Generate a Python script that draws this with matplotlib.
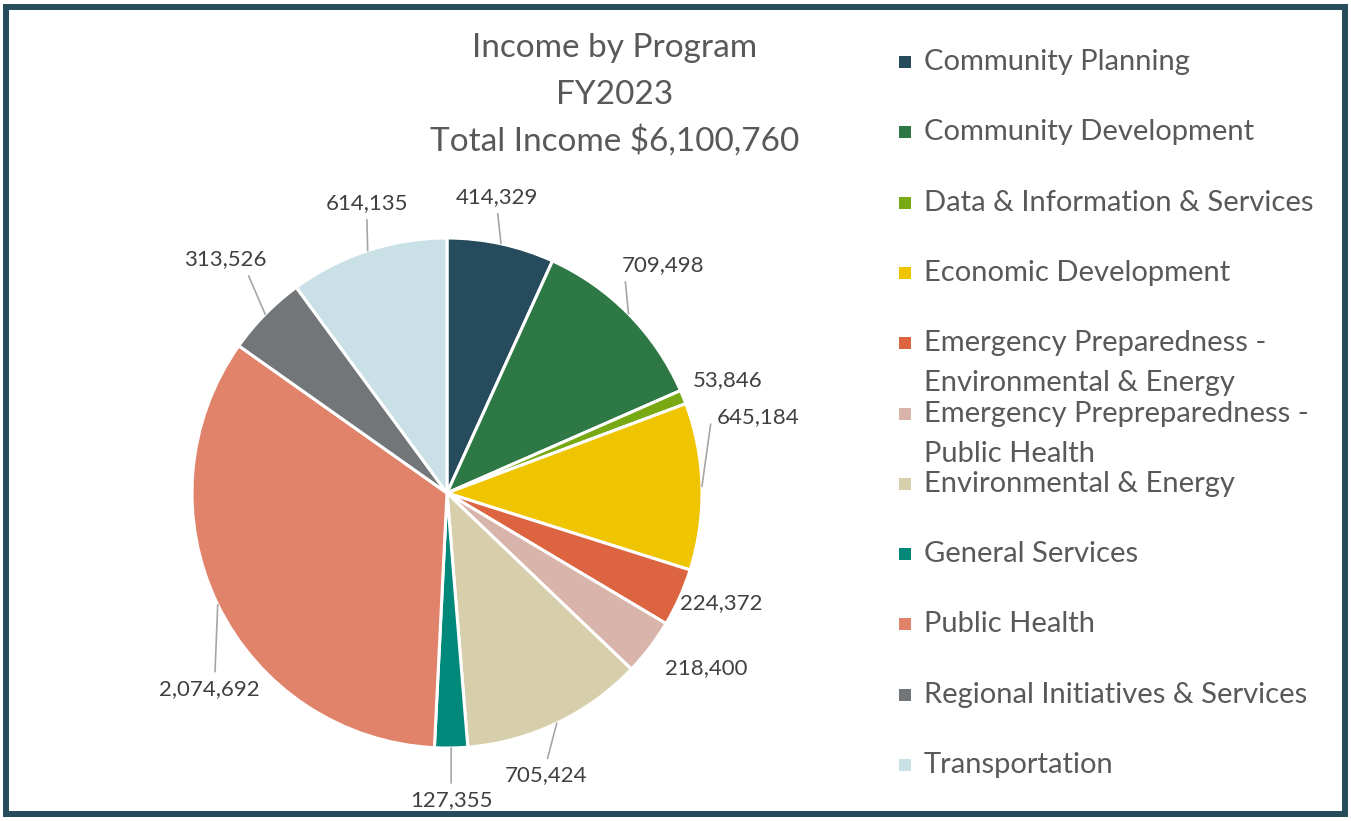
import matplotlib.pyplot as plt
import matplotlib.patches as mpatches
import numpy as np

programs = ["Community Planning", "Community Development", "Data & Information & Services",
            "Economic Development", "Emergency Preparedness -\nEnvironmental & Energy",
            "Emergency Prepreparedness -\nPublic Health", "Environmental & Energy",
            "General Services", "Public Health", "Regional Initiatives & Services",
            "Transportation"]
income = [414329, 709498, 53846, 645184, 224372, 218400, 705424, 127355, 2074692, 313526, 614135]
colors = ["#264b5d", "#2e7846", "#78a914", "#efc400", "#dc6440", "#d9b4aa",
          "#d7cfab", "#00887a", "#e0836a", "#727679", "#c9e0e7"]
title = "Income by Program\nFY2023\nTotal Income $6,100,760"

plt.rcParams['font.family'] = ['Lato', 'DejaVu Sans']

W, H = 1351, 821
fig = plt.figure(figsize=(W / 100, H / 100), dpi=100)

# pie centre (447, 493) px, radius 255 px
R = 255
ax = fig.add_axes([(447 - R) / W, (H - 493 - R) / H, 2 * R / W, 2 * R / H])
wedges, _ = ax.pie(income, colors=colors, startangle=90, counterclock=False,
                   wedgeprops=dict(edgecolor="white", linewidth=2.2))
ax.set_xlim(-1, 1)
ax.set_ylim(-1, 1)
ax.set_aspect("equal")

# label offsets from wedge edge (px, y down), leader flag, relpos
label_off = [(-4, -47), (35, -49), (44, -17), (56, -69), (42, 6), (56, 21),
             (-11, 52), (0, 52), (-8, 84), (-40, -55), (-1, -48)]
leader = [True, True, False, True, False, False, True, True, True, True, True]
relpos = [(0.5, 0), (0.03, 0), (0.5, 0.5), (0, 0.3), (0.5, 0.5), (0.5, 0.5),
          (0.5, 1), (0.5, 1), (0.55, 1), (0.75, 0), (0.5, 0)]

for i, w in enumerate(wedges):
    mid = np.deg2rad((w.theta1 + w.theta2) / 2)
    ex, ey = np.cos(mid), np.sin(mid)
    tx = ex + label_off[i][0] / R
    ty = ey - label_off[i][1] / R
    txt = f"{income[i]:,}"
    if leader[i]:
        cs = "angle,angleA=180,angleB=82,rad=0" if i == 3 else "arc3"
        ax.annotate(txt, xy=(ex, ey), xytext=(tx, ty), ha="center", va="center",
                    fontsize=16, color="#404040",
                    arrowprops=dict(arrowstyle="-", color="#a6a6a6", lw=1.2,
                                    shrinkA=3, shrinkB=0, relpos=relpos[i],
                                    connectionstyle=cs))
    else:
        ax.text(tx, ty, txt, ha="center", va="center", fontsize=16, color="#404040")

# title
for j, line in enumerate(title.split("\n")):
    fig.text(615 / W, 1 - (48 + j * 46.5) / H, line, ha="center", va="center",
             fontsize=24, color="#595959")

# legend
for i, name in enumerate(programs):
    y = 62 + i * 70.3
    fig.patches.append(mpatches.Rectangle((899 / W, 1 - (y + 6) / H), 12 / W, 12 / H,
                                          transform=fig.transFigure,
                                          facecolor=colors[i], edgecolor="none"))
    for k, line in enumerate(name.split("\n")):
        fig.text(924 / W, 1 - (y + k * 40) / H, line, ha="left", va="center",
                 fontsize=21, color="#595959")

# outer frame
fig.patches.append(mpatches.Rectangle((6 / W, 7 / H), (W - 12) / W, (H - 14) / H,
                                      transform=fig.transFigure, fill=False,
                                      edgecolor="#264b5a", linewidth=4.3))

fig.savefig("out.png", dpi=100)
